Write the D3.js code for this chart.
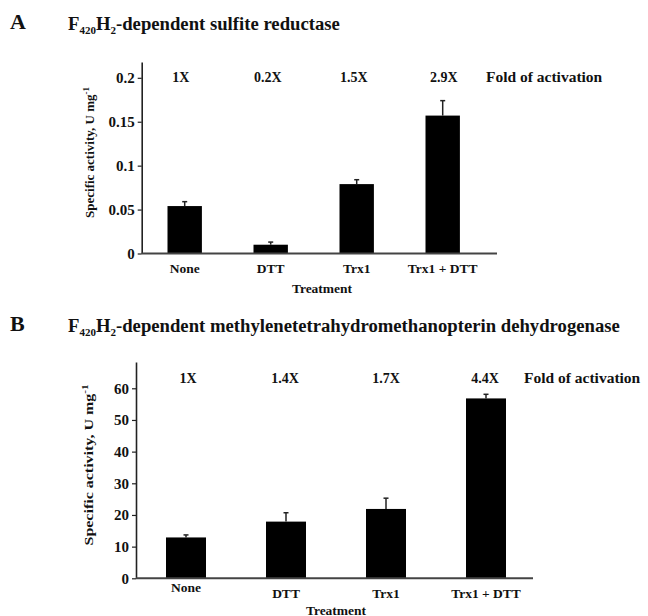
<!DOCTYPE html>
<html>
<head>
<meta charset="utf-8">
<script src="https://cdn.jsdelivr.net/npm/d3@7"></script>
<style>
  html, body { margin: 0; padding: 0; background: #fff; }
  svg { display: block; }
  text { font-family: "Liberation Serif", "Times New Roman", serif; font-weight: bold; fill: #111; }
</style>
</head>
<body>
<svg id="chart" width="648" height="616"></svg>
<script>
// Treatments shared by both assays
const treatments = ["None", "DTT", "Trx1", "Trx1 + DTT"];

// Panel A: F420H2-dependent sulfite reductase (U mg-1)
const sulfiteActivity = [0.054, 0.010, 0.079, 0.157];
const sulfiteError    = [0.005, 0.003, 0.005, 0.017];
const sulfiteFold     = ["1X", "0.2X", "1.5X", "2.9X"];
const sulfiteTicks    = [0, 0.05, 0.1, 0.15, 0.2];
const sulfiteTickLabels = ["0", "0.05", "0.1", "0.15", "0.2"];

// Panel B: F420H2-dependent methylenetetrahydromethanopterin dehydrogenase (U mg-1)
const mtdActivity = [12.9, 17.9, 21.9, 56.8];
const mtdError    = [0.8, 2.8, 3.4, 1.3];
const mtdFold     = ["1X", "1.4X", "1.7X", "4.4X"];
const mtdTicks    = [0, 10, 20, 30, 40, 50, 60];
const mtdTickLabels = ["0", "10", "20", "30", "40", "50", "60"];

const svg = d3.select("#chart");

function drawTitle(letter, name, y) {
  svg.append("text").attr("x", 10).attr("y", y).attr("font-size", 22).text(letter);
  const t = svg.append("text").attr("x", 68).attr("y", y + 1).attr("font-size", 18.7);
  t.append("tspan").text("F");
  t.append("tspan").attr("font-size", 11).attr("dy", 3.5).text("420");
  t.append("tspan").attr("dy", -3.5).text("H");
  t.append("tspan").attr("font-size", 11).attr("dy", 3.5).text("2");
  t.append("tspan").attr("dy", -3.5).text("-" + name);
}

function drawPanel(cfg) {
  const g = svg.append("g");
  const x = d3.scaleBand().domain(treatments).range(cfg.band).paddingInner(cfg.pad).paddingOuter(cfg.pad / 2);
  const y = d3.scaleLinear().domain([0, cfg.yMax]).range([cfg.y0, cfg.yTop]);

  // bars
  g.selectAll("rect.bar").data(cfg.values).join("rect")
    .attr("class", "bar")
    .attr("x", (d, i) => x(treatments[i]))
    .attr("width", x.bandwidth())
    .attr("y", d => y(d))
    .attr("height", d => y(0) - y(d))
    .attr("fill", "#000");

  // upward error bars
  const eb = g.selectAll("g.err").data(cfg.values).join("g").attr("class", "err");
  eb.append("line")
    .attr("x1", (d, i) => x(treatments[i]) + x.bandwidth() / 2)
    .attr("x2", (d, i) => x(treatments[i]) + x.bandwidth() / 2)
    .attr("y1", d => y(d))
    .attr("y2", (d, i) => y(d + cfg.errors[i]))
    .attr("stroke", "#222").attr("stroke-width", 1.5);
  eb.append("line")
    .attr("x1", (d, i) => x(treatments[i]) + x.bandwidth() / 2 - 2.5)
    .attr("x2", (d, i) => x(treatments[i]) + x.bandwidth() / 2 + 2.5)
    .attr("y1", (d, i) => y(d + cfg.errors[i]))
    .attr("y2", (d, i) => y(d + cfg.errors[i]))
    .attr("stroke", "#222").attr("stroke-width", 1.5);

  // y axis
  const yAxis = d3.axisLeft(y).tickValues(cfg.ticks).tickSize(4).tickSizeOuter(0)
    .tickFormat((d, i) => cfg.tickLabels[i]);
  const ya = g.append("g").attr("transform", `translate(${cfg.band[0]},0)`).call(yAxis);
  ya.select(".domain").attr("stroke", "#222").attr("stroke-width", 1.6);
  ya.selectAll(".tick line").attr("stroke", "#222").attr("stroke-width", 1.2);
  ya.selectAll(".tick text").attr("font-size", 15).attr("x", -7)
    .attr("font-family", "Liberation Serif, serif").attr("font-weight", "bold").attr("fill", "#111");

  // x axis baseline
  g.append("line").attr("x1", cfg.band[0]).attr("x2", cfg.axisEnd)
    .attr("y1", y(0)).attr("y2", y(0)).attr("stroke", "#444").attr("stroke-width", 2);

  // category labels
  const xAxis = d3.axisBottom(x).tickSize(0).tickPadding(0);
  const xa = g.append("g").attr("transform", `translate(0,${y(0)})`).call(xAxis);
  xa.select(".domain").remove();
  xa.selectAll(".tick text")
    .attr("font-size", 13.5).attr("font-family", "Liberation Serif, serif")
    .attr("font-weight", "bold").attr("fill", "#111")
    .attr("dy", null)
    .attr("y", (d, i) => cfg.labelDy[i]);

  g.append("text").attr("x", cfg.treatX).attr("y", cfg.treatY)
    .attr("text-anchor", "middle").attr("font-size", 13.5).text("Treatment");

  // y axis title
  const yl = g.append("text")
    .attr("transform", `translate(${cfg.yLabelX},${cfg.yLabelY}) rotate(-90) scale(${cfg.yLabelScale},1)`)
    .attr("text-anchor", "middle").attr("font-size", 13);
  yl.append("tspan").text("Specific activity, U mg");
  yl.append("tspan").attr("font-size", 9).attr("dy", -5).text("-1");

  // fold-of-activation row
  g.selectAll("text.fold").data(cfg.fold).join("text")
    .attr("class", "fold")
    .attr("x", (d, i) => x(treatments[i]) + x.bandwidth() / 2 + cfg.foldDx[i])
    .attr("y", cfg.foldY)
    .attr("text-anchor", "middle").attr("font-size", 14).text(d => d);
  g.append("text").attr("x", cfg.foldTextX).attr("y", cfg.foldY)
    .attr("font-size", 15.5).text("Fold of activation");
}

drawTitle("A", "dependent sulfite reductase", 29);
drawTitle("B", "dependent methylenetetrahydromethanopterin dehydrogenase", 331);

drawPanel({
  values: sulfiteActivity, errors: sulfiteError, fold: sulfiteFold,
  ticks: sulfiteTicks, tickLabels: sulfiteTickLabels,
  band: [141.7, 485.7], pad: 0.6, axisEnd: 497,
  yMax: 0.218, y0: 253.5, yTop: 62,
  labelDy: [19, 19, 19, 19], treatX: 322, treatY: 293,
  yLabelX: 94, yLabelY: 152.5, yLabelScale: 1,
  foldY: 82, foldDx: [-4, -3, -3, 1], foldTextX: 486
});

drawPanel({
  values: mtdActivity, errors: mtdError, fold: mtdFold,
  ticks: mtdTicks, tickLabels: mtdTickLabels,
  band: [136, 536], pad: 0.6, axisEnd: 533,
  yMax: 68.3, y0: 578.3, yTop: 362,
  labelDy: [13.5, 20, 20, 20], treatX: 336, treatY: 614.5,
  yLabelX: 93, yLabelY: 465, yLabelScale: 1.23,
  foldY: 383, foldDx: [2, -1, 0, -1], foldTextX: 524
});
</script>
</body>
</html>
